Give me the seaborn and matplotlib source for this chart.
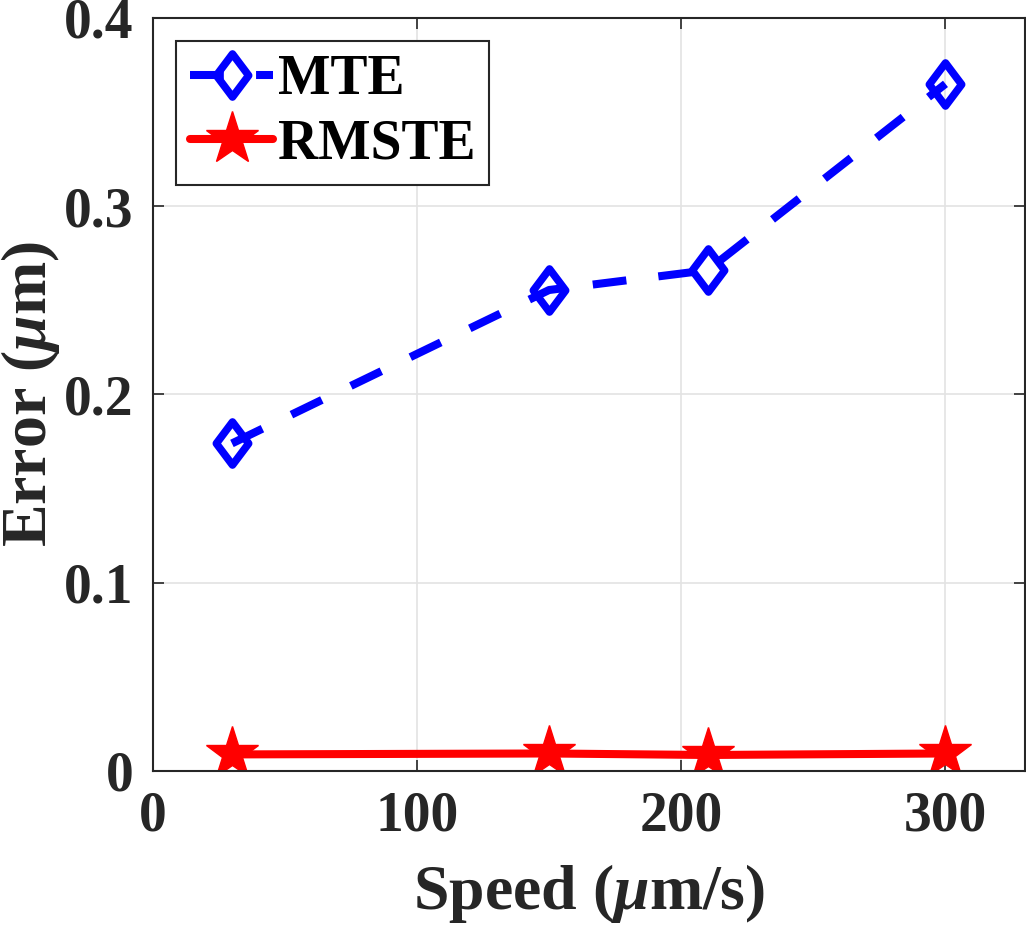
import numpy as np
import pandas as pd
import matplotlib
matplotlib.use('Agg')
import matplotlib.pyplot as plt
from matplotlib.path import Path
import seaborn as sns

# data
speed = [30, 150, 210, 300]
mte = [0.174, 0.2555, 0.266, 0.365]
rmste = [0.0088, 0.0093, 0.0085, 0.0093]
x_ticks = [0, 100, 200, 300]
y_ticks = [0, 0.1, 0.2, 0.3, 0.4]
y_labels = ['0', '0.1', '0.2', '0.3', '0.4']

sns.set_theme(style='whitegrid')
plt.rcParams['font.family'] = ['Liberation Serif', 'DejaVu Serif']
plt.rcParams['font.weight'] = 'bold'
plt.rcParams['mathtext.fontset'] = 'custom'
plt.rcParams['mathtext.it'] = 'Liberation Serif:italic:bold'
plt.rcParams['mathtext.rm'] = 'Liberation Serif:bold'

df = pd.DataFrame({'Speed': speed, 'MTE': mte, 'RMSTE': rmste})

fig = plt.figure(figsize=(10.26, 9.27), dpi=100)
ax = fig.add_axes([0.1488, 0.1683, 0.850, 0.8123])

# MATLAB-like diamond (narrower than matplotlib 'D')
diamond = Path([(0, 1), (0.75, 0), (0, -1), (-0.75, 0), (0, 1)],
               [Path.MOVETO, Path.LINETO, Path.LINETO, Path.LINETO, Path.CLOSEPOLY])

sns.lineplot(data=df, x='Speed', y='MTE', ax=ax, color='#0000ff', lw=5.8,
             linestyle=(0, (4.2, 4.0)), marker=diamond, markersize=31,
             markerfacecolor='none', markeredgecolor='#0000ff', markeredgewidth=5.5,
             label='MTE')
sns.lineplot(data=df, x='Speed', y='RMSTE', ax=ax, color='#ff0000', lw=5.8,
             marker='*', markersize=40, markerfacecolor='#ff0000',
             markeredgecolor='#ff0000', markeredgewidth=1, label='RMSTE')

ax.set_xlim(0, 330)
ax.set_ylim(0, 0.4)
ax.set_xticks(x_ticks)
ax.set_yticks(y_ticks)
ax.set_yticklabels(y_labels)
ax.grid(True, color='#e3e3e3', lw=1.2)
for s in ax.spines.values():
    s.set_color('#262626')
    s.set_linewidth(1.5)
ax.tick_params(axis='both', direction='in', length=8, width=1.2, colors='#262626',
               labelsize=40, pad=14, top=True, right=True, bottom=True, left=True)
for lab in ax.get_xticklabels() + ax.get_yticklabels():
    lab.set_fontweight('bold')

ax.set_xlabel(r'Speed ($\mu$m/s)', fontsize=46, fontweight='bold', color='#262626', labelpad=14)
ax.set_ylabel(r'Error ($\mu$m)', fontsize=46, fontweight='bold', color='#262626', labelpad=1)

leg = ax.legend(loc='upper left', bbox_to_anchor=(0.027, 0.97), fontsize=40,
                handlelength=1.5, handletextpad=0.08, borderpad=0.25, labelspacing=0.22,
                fancybox=False, framealpha=1, edgecolor='#262626', borderaxespad=0)
leg.get_frame().set_linewidth(1.5)
for t in leg.get_texts():
    t.set_fontweight('bold')
    t.set_color('black')

fig.savefig('out.png', dpi=100)
